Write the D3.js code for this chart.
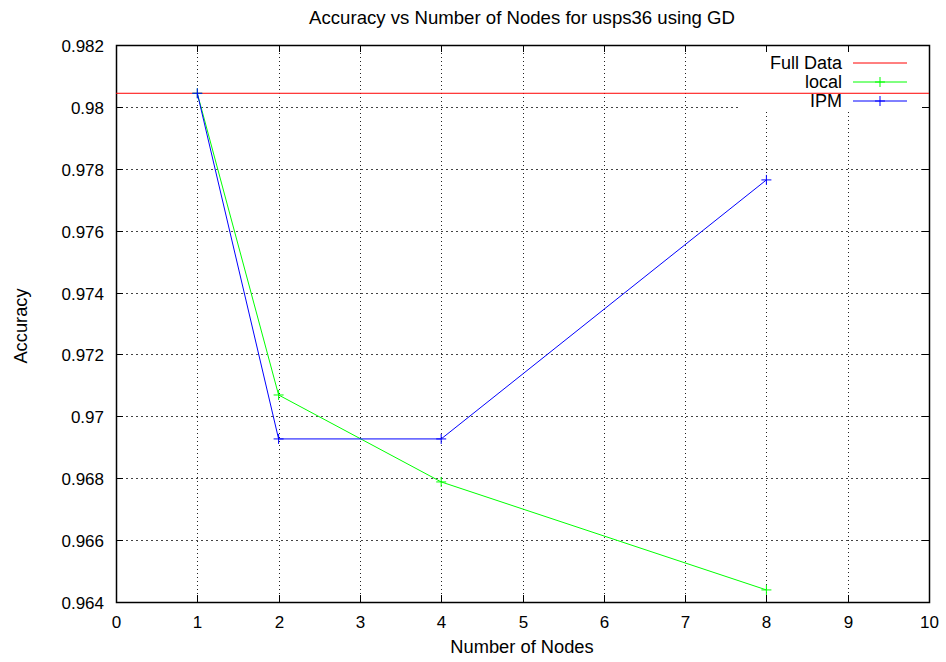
<!DOCTYPE html>
<html>
<head>
<meta charset="utf-8">
<script src="https://cdn.jsdelivr.net/npm/d3@7"></script>
<style>
  body { margin: 0; background: #fff; }
  text { font-family: "Liberation Sans", Arial, sans-serif; fill: #000; }
</style>
</head>
<body>
<div id="chart"></div>
<script>
// Data
var nodes      = [1, 2, 4, 8];
var fullData   = 0.98044;
var localAcc   = [0.98044, 0.97069, 0.96788, 0.96439];
var ipmAcc     = [0.98044, 0.96927, 0.96927, 0.97764];
var xTicks     = [0, 1, 2, 3, 4, 5, 6, 7, 8, 9, 10];
var yTicks     = [0.964, 0.966, 0.968, 0.97, 0.972, 0.974, 0.976, 0.978, 0.98, 0.982];
var legendRows = ["Full Data", "local", "IPM"];
var legendCols = ["#ff0000", "#00ff00", "#0000ff"];

// Size
var width  = 946;
var height = 662;
var m      = { left: 116, right: 929, top: 45, bottom: 602 };

var x = d3.scaleLinear().domain([0, 10]).range([m.left, m.right]);
var y = d3.scaleLinear().domain([0.964, 0.982]).range([m.bottom, m.top]);

var svg = d3.select("#chart")
    .append("svg")
    .attr("width", width)
    .attr("height", height);

// legend area that grid skips
var keyBox = { x0: 740, y0: m.top, x1: m.right, y1: 112 };

// Grid lines
yTicks.forEach(function (t) {
    if (t === 0.964 || t === 0.982) return;
    var yy = Math.round(y(t)) + 0.5;
    var xEnd = (yy >= keyBox.y0 && yy <= keyBox.y1) ? keyBox.x0 : m.right;
    svg.append("line")
        .attr("x1", m.left).attr("x2", xEnd)
        .attr("y1", yy).attr("y2", yy)
        .style("stroke", "#444")
        .style("stroke-width", 1)
        .style("stroke-dasharray", "2,3");
});
xTicks.forEach(function (t) {
    if (t === 0 || t === 10) return;
    var xx = Math.round(x(t)) + 0.5;
    var yStart = (xx >= keyBox.x0) ? keyBox.y1 : m.top;
    svg.append("line")
        .attr("x1", xx).attr("x2", xx)
        .attr("y1", yStart).attr("y2", m.bottom)
        .style("stroke", "#222")
        .style("stroke-width", 1)
        .style("stroke-dasharray", "1,3");
});

// Ticks (inward, mirrored)
var tl = 7;
yTicks.forEach(function (t) {
    var yy = Math.round(y(t)) + 0.5;
    svg.append("line").attr("x1", m.left).attr("x2", m.left + tl)
        .attr("y1", yy).attr("y2", yy).style("stroke", "#000");
    svg.append("line").attr("x1", m.right - tl).attr("x2", m.right)
        .attr("y1", yy).attr("y2", yy).style("stroke", "#000");
    svg.append("text")
        .attr("x", m.left - 12).attr("y", yy + 6)
        .attr("text-anchor", "end")
        .style("font-size", "17px")
        .text(d3.format("")(+t.toFixed(3)));
});
xTicks.forEach(function (t) {
    var xx = Math.round(x(t)) + 0.5;
    svg.append("line").attr("x1", xx).attr("x2", xx)
        .attr("y1", m.bottom).attr("y2", m.bottom - tl).style("stroke", "#000");
    svg.append("line").attr("x1", xx).attr("x2", xx)
        .attr("y1", m.top).attr("y2", m.top + tl).style("stroke", "#000");
    svg.append("text")
        .attr("x", xx).attr("y", m.bottom + 26)
        .attr("text-anchor", "middle")
        .style("font-size", "17px")
        .text(t);
});

// Border
svg.append("rect")
    .attr("x", m.left + 0.5).attr("y", m.top + 0.5)
    .attr("width", m.right - m.left).attr("height", m.bottom - m.top)
    .style("fill", "none")
    .style("stroke", "#000")
    .style("stroke-width", 1.5);

// Full Data line
svg.append("line")
    .attr("x1", m.left).attr("x2", m.right)
    .attr("y1", y(fullData)).attr("y2", y(fullData))
    .style("stroke", legendCols[0]).style("stroke-width", 1);

// Series
var line = d3.line()
    .x(function (d, i) { return x(nodes[i]); })
    .y(function (d) { return y(d); });

function plus(sel, cx, cy, col) {
    var s = 5;
    sel.append("line").attr("x1", cx - s).attr("x2", cx + s)
        .attr("y1", cy).attr("y2", cy).style("stroke", col);
    sel.append("line").attr("x1", cx).attr("x2", cx)
        .attr("y1", cy - s).attr("y2", cy + s).style("stroke", col);
}

[[localAcc, legendCols[1]], [ipmAcc, legendCols[2]]].forEach(function (s) {
    svg.append("path")
        .datum(s[0])
        .attr("d", line)
        .style("fill", "none")
        .style("stroke", s[1])
        .style("stroke-width", 1);
    s[0].forEach(function (v, i) {
        plus(svg, x(nodes[i]), y(v), s[1]);
    });
});

// Legend
legendRows.forEach(function (name, i) {
    var ly = 63 + i * 19;
    svg.append("text")
        .attr("x", 842).attr("y", ly + 6)
        .attr("text-anchor", "end")
        .style("font-size", "18px")
        .text(name);
    svg.append("line")
        .attr("x1", 853).attr("x2", 907)
        .attr("y1", ly).attr("y2", ly)
        .style("stroke", legendCols[i]);
    if (i > 0) plus(svg, 880, ly, legendCols[i]);
});

// Title and axis labels
svg.append("text")
    .attr("x", 522).attr("y", 24)
    .attr("text-anchor", "middle")
    .style("font-size", "18.6px")
    .text("Accuracy vs Number of Nodes for usps36 using GD");

svg.append("text")
    .attr("x", 522).attr("y", 653)
    .attr("text-anchor", "middle")
    .style("font-size", "18.3px")
    .text("Number of Nodes");

svg.append("text")
    .attr("transform", "translate(27," + 326 + ") rotate(-90)")
    .attr("text-anchor", "middle")
    .style("font-size", "18.3px")
    .text("Accuracy");
</script>
</body>
</html>
